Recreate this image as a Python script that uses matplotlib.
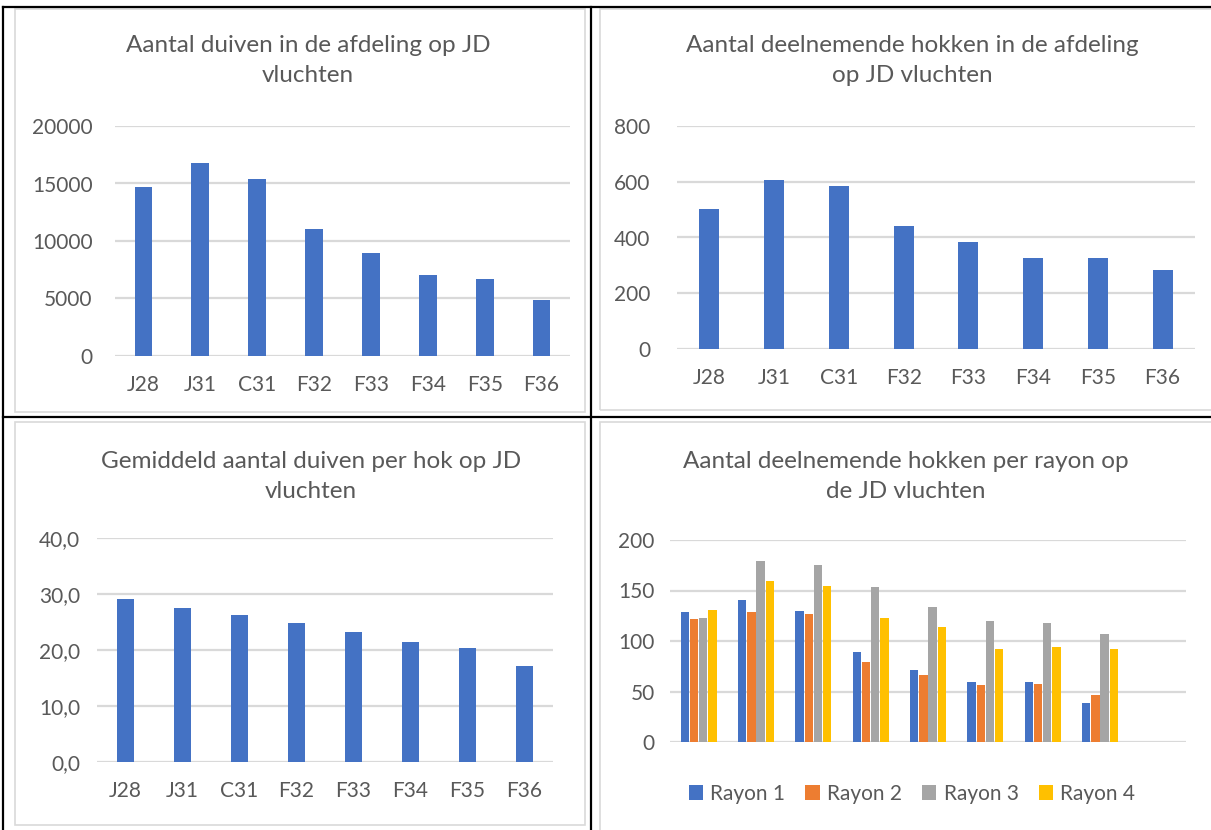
import matplotlib
matplotlib.use("Agg")
import matplotlib.pyplot as plt
import numpy as np
from matplotlib.lines import Line2D
from matplotlib.patches import Rectangle
from matplotlib.ticker import FuncFormatter

# data
vluchten = ["J28", "J31", "C31", "F32", "F33", "F34", "F35", "F36"]
duiven = [14700, 16800, 15350, 11050, 8980, 7040, 6700, 4900]
hokken = [503, 607, 586, 443, 384, 326, 327, 284]
gemiddeld = [29.1, 27.5, 26.2, 24.9, 23.2, 21.4, 20.4, 17.2]
rayons = ["Rayon 1", "Rayon 2", "Rayon 3", "Rayon 4"]
rayon1 = [129, 141, 130, 89, 71, 59, 59, 39]
rayon2 = [122, 129, 127, 79, 66, 56, 57, 47]
rayon3 = [123, 179, 175, 153, 134, 120, 118, 107]
rayon4 = [131, 159, 154, 123, 114, 92, 94, 92]

titles = ["Aantal duiven in de afdeling op JD\nvluchten",
          "Aantal deelnemende hokken in de afdeling\nop JD vluchten",
          "Gemiddeld aantal duiven per hok op JD\nvluchten",
          "Aantal deelnemende hokken per rayon op\nde JD vluchten"]

W, H = 1211, 830
blue = "#4472C4"
rayon_colors = ["#4472C4", "#ED7D31", "#A5A5A5", "#FFC000"]
txt = "#595959"
grid = "#D9D9D9"
fs = 15

plt.rcParams["font.family"] = ["Lato", "DejaVu Sans"]

fig = plt.figure(figsize=(W / 100, H / 100), dpi=100)
fig.patch.set_facecolor("white")


def px_axes(x0, y0, x1, y1):
    return fig.add_axes([x0 / W, 1 - y1 / H, (x1 - x0) / W, (y1 - y0) / H])


def frame(x0, y0, x1, y1):
    fig.add_artist(Rectangle((x0 / W, 1 - y1 / H), (x1 - x0) / W, (y1 - y0) / H,
                             transform=fig.transFigure, fill=False,
                             edgecolor=grid, linewidth=1.2))


def title(text, xc, y_first, step=30):
    for i, line in enumerate(text.split("\n")):
        fig.text(xc / W, 1 - (y_first + i * step) / H, line, ha="center",
                 va="center", fontsize=17.5, color=txt)


def style(ax, ymax, step, ypad, fmt=None, xlabels=True):
    ax.set_ylim(0, ymax)
    ax.set_yticks(np.arange(0, ymax + step / 2, step))
    ax.yaxis.grid(True, color=grid, linewidth=1.6)
    ax.set_axisbelow(True)
    for s in ax.spines.values():
        s.set_visible(False)
    ax.tick_params(axis="y", length=0, pad=ypad, labelsize=fs, labelcolor=txt)
    ax.tick_params(axis="x", length=0, pad=14, labelsize=fs, labelcolor=txt)
    if fmt:
        ax.yaxis.set_major_formatter(FuncFormatter(fmt))
    if not xlabels:
        ax.set_xticks([])


# chart frames (light gray) and table lines (black)
frame(15, 9, 585, 412)
frame(600, 9, 1216, 410)
frame(15, 422, 585, 825)
frame(600, 422, 1216, 832)
for (xa, ya, xb, yb) in [(3, 7, 1211, 7), (3, 7, 3, 830), (591, 7, 591, 830),
                         (3, 417, 1211, 417)]:
    fig.add_artist(Line2D([xa / W, xb / W], [1 - ya / H, 1 - yb / H],
                          transform=fig.transFigure, color="black", linewidth=1.6))

# top left
ax1 = px_axes(115, 126, 570, 356)
ax1.bar(vluchten, duiven, width=0.31, color=blue)
ax1.set_xlim(-0.5, 7.5)
style(ax1, 20000, 5000, 16)
title(titles[0], 308, 46)

# top right
ax2 = px_axes(677, 126, 1195, 349)
ax2.bar(vluchten, hokken, width=0.31, color=blue)
ax2.set_xlim(-0.5, 7.5)
style(ax2, 800, 200, 19)
title(titles[1], 912, 46)

# bottom left
ax3 = px_axes(97, 538, 553, 762)
ax3.bar(vluchten, gemiddeld, width=0.31, color=blue)
ax3.set_xlim(-0.5, 7.5)
style(ax3, 40, 10, 12, fmt=lambda v, p: f"{v:.1f}".replace(".", ","))
title(titles[2], 311, 461)

# bottom right, grouped bars
ax4 = px_axes(670, 540, 1186, 742)
x = np.arange(len(vluchten))
series = [rayon1, rayon2, rayon3, rayon4]
for i, (vals, name) in enumerate(zip(series, rayons)):
    ax4.bar(x + (i - 1.5) * 0.16, vals, width=0.145, color=rayon_colors[i], label=name)
ax4.set_xlim(-0.5, 8.5)
style(ax4, 200, 50, 11, xlabels=False)
title(titles[3], 906, 461)
leg = ax4.legend(loc="center", bbox_to_anchor=(0.5 - 16 / 516, 1 - (794 - 540) / 202),
                 ncol=4, frameon=False, fontsize=fs, handlelength=0.7,
                 handleheight=0.7, handletextpad=0.35, columnspacing=0.95)
for t in leg.get_texts():
    t.set_color(txt)

fig.savefig("out.png", dpi=100, facecolor="white")
